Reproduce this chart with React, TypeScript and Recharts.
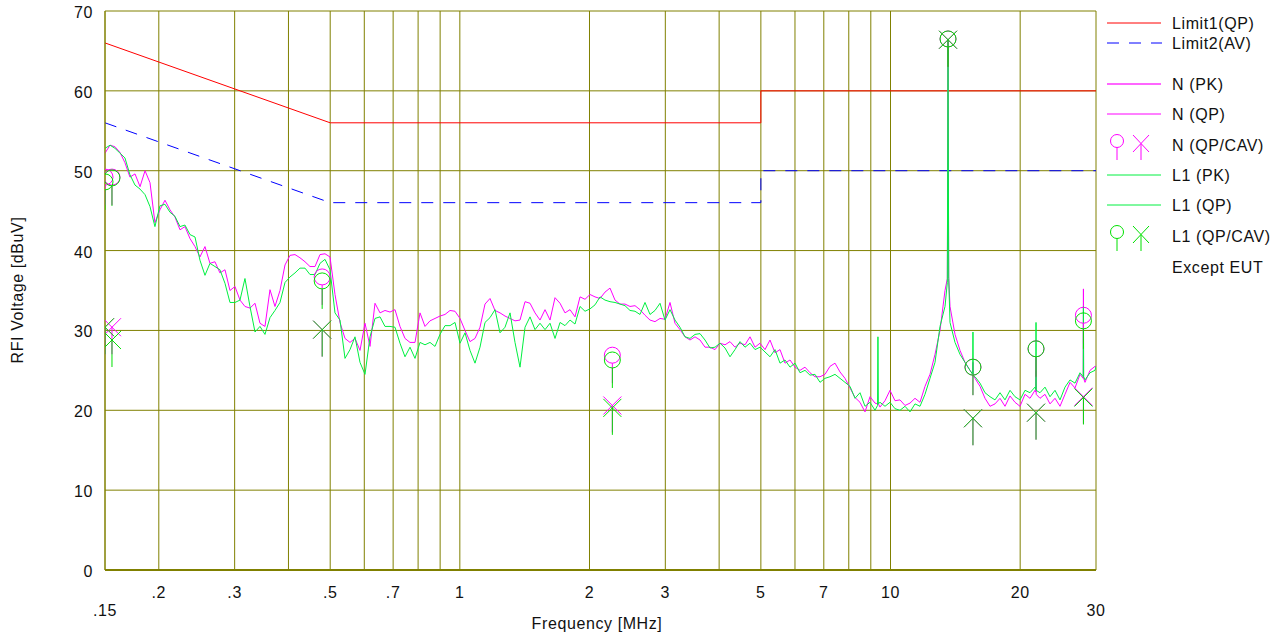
import React from 'react';
import { ComposedChart, Line, Scatter, XAxis, YAxis, CartesianGrid } from 'recharts';

// Frequency sweep (MHz) and measured peak traces (dBuV)
const FREQ_MHZ = [
  0.1500, 0.1541, 0.1582, 0.1625, 0.1669, 0.1714, 0.1761, 0.1809, 0.1858, 0.1908,
  0.1959, 0.2012, 0.2067, 0.2123, 0.2180, 0.2240, 0.2300, 0.2363, 0.2427, 0.2492,
  0.2560, 0.2629, 0.2700, 0.2773, 0.2849, 0.2926, 0.3005, 0.3087, 0.3170, 0.3256,
  0.3345, 0.3435, 0.3528, 0.3624, 0.3722, 0.3823, 0.3927, 0.4033, 0.4142, 0.4254,
  0.4370, 0.4488, 0.4610, 0.4735, 0.4863, 0.4995, 0.5130, 0.5269, 0.5412, 0.5559,
  0.5709, 0.5864, 0.6023, 0.6186, 0.6353, 0.6526, 0.6702, 0.6884, 0.7070, 0.7262,
  0.7459, 0.7661, 0.7869, 0.8082, 0.8301, 0.8526, 0.8757, 0.8994, 0.9238, 0.9488,
  0.9745, 1.0009, 1.0280, 1.0559, 1.0845, 1.1139, 1.1440, 1.1750, 1.2069, 1.2396,
  1.2732, 1.3077, 1.3431, 1.3795, 1.4169, 1.4553, 1.4947, 1.5352, 1.5768, 1.6195,
  1.6634, 1.7085, 1.7547, 1.8023, 1.8511, 1.9013, 1.9528, 2.0057, 2.0600, 2.1158,
  2.1731, 2.2320, 2.2924, 2.3545, 2.4183, 2.4838, 2.5511, 2.6202, 2.6912, 2.7641,
  2.8391, 2.9160, 2.9950, 3.0761, 3.1594, 3.2451, 3.3330, 3.4233, 3.5160, 3.6113,
  3.7092, 3.8097, 3.9129, 4.0189, 4.1278, 4.2396, 4.3545, 4.4724, 4.5936, 4.7180,
  4.8459, 4.9772, 5.1120, 5.2505, 5.3928, 5.5388, 5.6889, 5.8430, 6.0013, 6.1639,
  6.3309, 6.5024, 6.6786, 6.8595, 7.0454, 7.2362, 7.4323, 7.6337, 7.8405, 8.0529,
  8.2710, 8.4951, 8.7253, 8.9617, 9.2045, 9.33, 9.35, 9.37, 9.4538, 9.7099,
  9.9730, 10.243, 10.521, 10.806, 11.098, 11.399, 11.708, 12.025, 12.351, 12.685,
  13.029, 13.382, 13.55, 13.60, 13.65, 13.745, 14.117, 14.499, 14.892, 15.295,
  15.52, 15.54, 15.56, 15.710, 16.136, 16.573, 17.022, 17.483, 17.957, 18.443,
  18.943, 19.456, 19.983, 20.525, 21.081, 21.652, 21.75, 21.77, 21.79, 22.239,
  22.841, 23.460, 24.095, 24.748, 25.418, 26.107, 26.814, 27.541, 28.02, 28.05,
  28.08, 28.287, 29.053, 29.840, 30.0,
];

const N_PK = [
  52.2, 53.2, 53.0, 52.3, 51.0, 49.2, 49.6, 48.0, 50.0, 48.5,
  43.5, 45.1, 46.3, 45.1, 44.2, 42.6, 43.0, 41.5, 40.5, 39.2,
  40.5, 38.4, 38.6, 37.2, 37.6, 35.0, 35.5, 33.8, 33.0, 32.8,
  33.4, 30.9, 30.5, 35.1, 33.0, 35.0, 38.2, 39.4, 39.5, 39.1,
  38.6, 38.0, 38.0, 39.5, 39.6, 39.2, 34.5, 31.0, 29.0, 28.5,
  29.0, 27.5, 30.9, 28.0, 33.4, 32.2, 32.5, 32.3, 32.6, 30.5,
  29.0, 28.5, 28.5, 32.2, 30.5, 31.2, 31.5, 31.8, 32.0, 32.5,
  32.4, 31.5, 30.0, 28.6, 29.0, 30.4, 33.3, 34.0, 32.5, 32.2,
  31.8, 31.5, 31.2, 31.3, 33.6, 33.4, 32.2, 31.3, 32.6, 31.3,
  34.1, 33.4, 32.2, 32.6, 31.7, 34.2, 33.9, 34.5, 34.2, 34.0,
  34.8, 35.3, 33.8, 33.3, 33.3, 33.0, 33.1, 32.6, 31.9, 31.3,
  31.1, 31.5, 31.4, 33.5, 30.9, 30.1, 29.2, 28.8, 29.2, 28.8,
  27.9, 27.9, 27.6, 28.4, 28.2, 28.6, 27.9, 28.4, 28.2, 29.2,
  27.9, 28.4, 27.6, 28.8, 27.2, 27.6, 25.9, 26.3, 25.4, 25.0,
  25.4, 24.7, 24.2, 24.2, 24.5, 25.5, 25.9, 24.8, 24.0, 22.8,
  21.6, 21.0, 19.8, 21.7, 20.9, 20.8, 21.0, 20.8, 20.4, 21.2,
  22.5, 21.2, 21.3, 20.6, 20.9, 21.5, 21.0, 23.0, 24.5, 27.0,
  30.0, 35.0, 36.5, 66.5, 36.7, 33.0, 29.5, 27.5, 26.0, 25.0,
  24.5, 26.0, 24.3, 24.0, 23.0, 21.5, 20.5, 20.8, 21.5, 20.5,
  21.8, 21.0, 20.5, 22.0, 21.5, 22.5, 22.3, 25.0, 22.0, 21.5,
  22.0, 20.8, 21.5, 20.5, 22.0, 23.5, 22.8, 24.5, 24.0, 35.2,
  24.0, 23.5, 25.0, 25.5, 25.5,
];

const L1_PK = [
  52.8, 53.2, 52.8, 52.2, 51.6, 49.5, 48.2, 47.7, 47.0, 45.5,
  43.0, 45.6, 45.8, 44.8, 44.3, 43.0, 43.2, 42.0, 41.7, 38.8,
  36.9, 38.4, 38.0, 37.6, 35.9, 33.5, 33.5, 33.8, 36.5, 33.0,
  29.8, 30.5, 29.5, 31.6, 32.5, 33.5, 36.0, 36.7, 37.2, 37.8,
  37.8, 37.0, 37.0, 38.4, 38.9, 37.6, 32.2, 31.3, 26.5, 27.6,
  29.2, 26.0, 24.5, 29.2, 31.5, 31.7, 30.5, 30.5, 30.4, 28.4,
  26.7, 27.9, 26.5, 28.5, 28.2, 28.5, 28.0, 29.5, 30.6, 30.6,
  31.0, 28.4, 29.7, 27.5, 25.9, 27.9, 31.0, 31.6, 32.6, 29.7,
  30.4, 32.2, 28.5, 25.4, 30.4, 31.7, 30.1, 30.9, 30.1, 30.9,
  29.0, 31.0, 30.6, 31.3, 30.8, 33.0, 32.4, 32.7, 33.2, 34.2,
  33.8, 33.6, 33.5, 33.3, 33.1, 32.5, 32.4, 32.0, 33.5, 32.0,
  32.5, 33.4, 31.3, 32.6, 31.3, 30.4, 29.2, 29.0, 29.5, 29.6,
  28.8, 27.8, 27.9, 28.4, 27.8, 26.7, 27.6, 28.6, 27.9, 28.4,
  27.6, 27.9, 27.3, 26.7, 27.6, 25.9, 26.3, 25.4, 25.9, 24.7,
  25.0, 24.4, 24.5, 23.5, 24.0, 24.2, 24.5, 24.0, 23.5, 23.0,
  21.5, 22.2, 20.5, 21.0, 20.0, 20.6, 29.2, 20.8, 21.0, 20.5,
  21.0, 20.2, 20.0, 20.5, 19.8, 20.8, 20.5, 22.0, 24.0, 26.0,
  30.5, 33.0, 36.0, 66.5, 36.5, 31.0, 28.5, 27.0, 26.0, 25.0,
  24.5, 29.8, 24.4, 24.2, 23.4, 22.2, 21.7, 21.3, 22.2, 21.3,
  22.5, 21.7, 21.3, 22.5, 22.2, 22.9, 22.6, 31.0, 22.5, 22.2,
  22.9, 21.7, 22.5, 21.3, 22.9, 23.8, 23.4, 24.7, 24.2, 33.0,
  24.2, 23.8, 24.7, 25.0, 25.5,
];

// Limits (EN 55022 class B style)
const LIMIT_FREQ = [0.15, 0.5, 5, 5, 30];
const LIMIT1_QP = [66, 56, 56, 60, 60];
const LIMIT2_AV = [56, 46, 46, 50, 50];

// Final measurement markers
const MARK_FREQ = [0.15, 0.1557, 0.479, 2.26, 13.6, 15.54, 21.77, 28.05];
const N_QP = [49.2, 49.2, 36.7, 26.9, 66.5, 25.4, 27.7, 31.9];
const N_CAV = [30.4, 30.4, 30.1, 20.6, 66.4, 19.0, 19.7, 21.7];
const L1_QP = [48.6, 49.1, 36.2, 26.3, 66.5, 25.4, 27.7, 31.2];
const L1_CAV = [30.4, 28.8, 30.1, 20.3, 66.4, 19.0, 19.7, 21.6];

// Axes
const X_TICKS = [0.15, 0.2, 0.3, 0.4, 0.5, 0.6, 0.7, 0.8, 0.9, 1, 2, 3, 4, 5, 6, 7, 8, 9, 10, 20, 30];
const X_LABELS = ['.15', '.2', '.3', '', '.5', '', '.7', '', '', '1', '2', '3', '', '5', '', '7', '', '', '10', '20', '30'];
const X_LOW = ['.15', '30'];
const Y_TICKS = [0, 10, 20, 30, 40, 50, 60, 70];

const FONT = '"Liberation Sans", Arial, sans-serif';
const OLIVE = '#808000';
const MAGENTA = '#ff00ff';
const GREEN = '#00f040';
const GREEN_MARK = '#00e000';

const traceData = FREQ_MHZ.map((f, i) => ({ f, n: N_PK[i], l1: L1_PK[i] }));
const limit1Data = LIMIT_FREQ.map((f, i) => ({ f, v: LIMIT1_QP[i] }));
const limit2Data = LIMIT_FREQ.map((f, i) => ({ f, v: LIMIT2_AV[i] }));
const mk = (vals: number[]) => MARK_FREQ.map((f, i) => ({ f, v: vals[i] }));

const circleShape = (color: string) => (props: any) => {
  const { cx, cy } = props;
  if (cx == null || cy == null) return <g />;
  return (
    <g>
      <circle cx={cx} cy={cy} r={8} fill="none" stroke={color} strokeWidth={1} />
      <line x1={cx} y1={cy + 8} x2={cx} y2={cy + 28} stroke={color} strokeWidth={1} />
    </g>
  );
};

const crossShape = (color: string) => (props: any) => {
  const { cx, cy } = props;
  if (cx == null || cy == null) return <g />;
  return (
    <g>
      <line x1={cx - 9} y1={cy - 9} x2={cx + 9} y2={cy + 9} stroke={color} strokeWidth={1} />
      <line x1={cx - 9} y1={cy + 9} x2={cx + 9} y2={cy - 9} stroke={color} strokeWidth={1} />
      <line x1={cx} y1={cy} x2={cx} y2={cy + 27} stroke={color} strokeWidth={1} />
    </g>
  );
};

const XTick = (props: any) => {
  const { x, payload } = props;
  const idx = X_TICKS.indexOf(payload.value);
  const label = idx >= 0 ? X_LABELS[idx] : '';
  if (!label) return <g />;
  const low = X_LOW.includes(label);
  return (
    <text x={x} y={low ? 616 : 598} textAnchor="middle" fontSize={16} fontFamily={FONT}
      letterSpacing={0.6} fill="#111">
      {label}
    </text>
  );
};

const YTick = (props: any) => {
  const { y, payload } = props;
  return (
    <text x={93} y={y + 7} textAnchor="end" fontSize={16} fontFamily={FONT} letterSpacing={0.6} fill="#111">
      {payload.value}
    </text>
  );
};

const LegendBox = () => {
  const tx = 72;
  const rows: { y: number; label: string; kind: string; color?: string }[] = [
    { y: 23, label: 'Limit1(QP)', kind: 'line', color: '#ff0000' },
    { y: 43, label: 'Limit2(AV)', kind: 'dash', color: '#0000ff' },
    { y: 84, label: 'N (PK)', kind: 'thick', color: MAGENTA },
    { y: 114, label: 'N (QP)', kind: 'line', color: MAGENTA },
    { y: 145, label: 'N (QP/CAV)', kind: 'mark', color: MAGENTA },
    { y: 175, label: 'L1 (PK)', kind: 'line', color: GREEN },
    { y: 205, label: 'L1 (QP)', kind: 'line', color: GREEN },
    { y: 236, label: 'L1 (QP/CAV)', kind: 'mark', color: GREEN_MARK },
    { y: 267, label: 'Except EUT', kind: 'none' },
  ];
  return (
    <svg width={178} height={290} style={{ display: 'block' }}>
      {rows.map((r) => (
        <g key={r.label}>
          {r.kind === 'line' && <line x1={7} x2={61} y1={r.y} y2={r.y} stroke={r.color} strokeWidth={1} />}
          {r.kind === 'thick' && <line x1={7} x2={61} y1={r.y} y2={r.y} stroke={r.color} strokeWidth={2} strokeOpacity={0.6} />}
          {r.kind === 'dash' && <line x1={7} x2={62} y1={r.y} y2={r.y} stroke={r.color} strokeWidth={1} strokeDasharray="12 10" />}
          {r.kind === 'mark' && (
            <g stroke={r.color} strokeWidth={1} fill="none">
              <circle cx={17} cy={r.y - 4} r={6.5} />
              <line x1={17} y1={r.y + 2.5} x2={17} y2={r.y + 15} />
              <line x1={33} y1={r.y - 10} x2={49} y2={r.y + 7} />
              <line x1={33} y1={r.y + 7} x2={49} y2={r.y - 10} />
              <line x1={41} y1={r.y - 1} x2={41} y2={r.y + 15} />
            </g>
          )}
          <text x={tx} y={r.y + 6} fontSize={16} fontFamily={FONT} letterSpacing={0.6} fill="#111">
            {r.label}
          </text>
        </g>
      ))}
    </svg>
  );
};

export default function App() {
  return (
    <div style={{ position: 'absolute', left: 0, top: 0, width: 1278, height: 634, background: '#fff' }}>
      <ComposedChart width={1278} height={634} margin={{ top: 11, right: 182, bottom: 34, left: 0 }}>
        <CartesianGrid stroke={OLIVE} strokeWidth={1} />
        <XAxis
          dataKey="f"
          type="number"
          scale="log"
          domain={[0.15, 30]}
          ticks={X_TICKS}
          interval={0}
          allowDataOverflow
          height={30}
          tick={<XTick />}
          tickLine={false}
          axisLine={{ stroke: OLIVE, strokeWidth: 2 }}
          label={{
            content: () => (
              <text x={597} y={629} textAnchor="middle" fontSize={16} fontFamily={FONT} letterSpacing={0.6} fill="#111">
                Frequency [MHz]
              </text>
            ),
          }}
        />
        <YAxis
          type="number"
          domain={[0, 70]}
          ticks={Y_TICKS}
          interval={0}
          width={105}
          tick={<YTick />}
          tickLine={false}
          axisLine={{ stroke: OLIVE, strokeWidth: 1 }}
          label={{
            content: () => (
              <text x={23} y={290} transform="rotate(-90 23 290)" textAnchor="middle" fontSize={16}
                fontFamily={FONT} letterSpacing={0.6} fill="#111">
                RFI Voltage [dBuV]
              </text>
            ),
          }}
        />
        <Line data={limit1Data} dataKey="v" stroke="#ff0000" strokeWidth={1} dot={false} isAnimationActive={false} type="linear" />
        <Line data={limit2Data} dataKey="v" stroke="#0000ff" strokeWidth={1} strokeDasharray="12 10" dot={false} isAnimationActive={false} type="linear" />
        <Line data={traceData} dataKey="n" stroke={MAGENTA} strokeWidth={1} dot={false} isAnimationActive={false} type="linear" />
        <Line data={traceData} dataKey="l1" stroke={GREEN} strokeWidth={1} dot={false} isAnimationActive={false} type="linear" />
        <Scatter data={mk(N_QP)} dataKey="v" shape={circleShape(MAGENTA)} isAnimationActive={false} />
        <Scatter data={mk(N_CAV)} dataKey="v" shape={crossShape(MAGENTA)} isAnimationActive={false} />
        <Scatter data={mk(L1_QP)} dataKey="v" shape={circleShape(GREEN_MARK)} isAnimationActive={false} />
        <Scatter data={mk(L1_CAV)} dataKey="v" shape={crossShape(GREEN_MARK)} isAnimationActive={false} />
      </ComposedChart>
      <div style={{ position: 'absolute', left: 1100, top: 0 }}>
        <LegendBox />
      </div>
    </div>
  );
}
